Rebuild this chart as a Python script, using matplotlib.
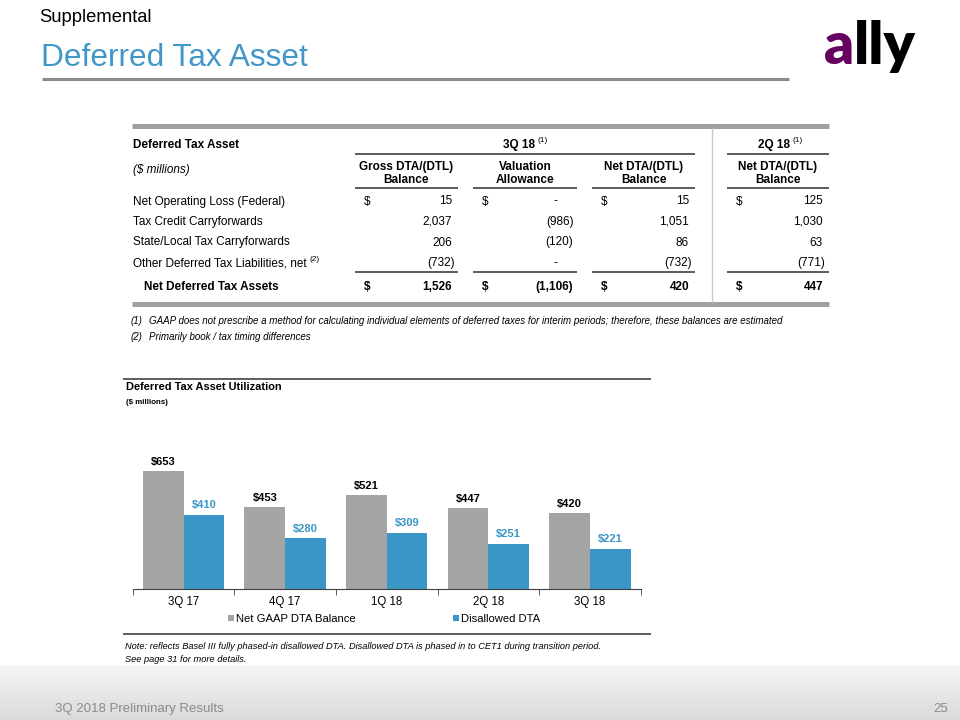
import matplotlib
matplotlib.use("Agg")
import matplotlib.pyplot as plt
import numpy as np
from matplotlib.lines import Line2D

plt.rcParams['font.family'] = ['Liberation Sans', 'DejaVu Sans']

# ---------------- data ----------------
row_labels = ["Net Operating Loss (Federal)", "Tax Credit Carryforwards",
              "State/Local Tax Carryforwards", "Other Deferred Tax Liabilities, net"]
gross_dta = [15, 2037, 206, -732]
valuation_allow = [0, -986, -120, 0]
net_dta_3q18 = [15, 1051, 86, -732]
net_dta_2q18 = [125, 1030, 63, -771]

categories = ["3Q 17", "4Q 17", "1Q 18", "2Q 18", "3Q 18"]
net_gaap_dta = [653, 453, 521, 447, 420]
disallowed_dta = [410, 280, 309, 251, 221]

GRAY = "#a5a5a5"
BLUE = "#3a96c6"
TITLE_BLUE = "#4197c8"

W, H = 960, 720
fig = plt.figure(figsize=(9.6, 7.2), dpi=100)

def X(px):
    return px / W

def Y(py):
    return 1 - py / H

def hline(x0, x1, y, color="#404040", lw=1.0):
    fig.add_artist(Line2D([X(x0), X(x1)], [Y(y), Y(y)], color=color, lw=lw,
                          transform=fig.transFigure, solid_capstyle='butt'))

def vline(x, y0, y1, color="#c0c0c0", lw=1.0):
    fig.add_artist(Line2D([X(x), X(x)], [Y(y0), Y(y1)], color=color, lw=lw,
                          transform=fig.transFigure))

def txt(x, y, s, **kw):
    kw.setdefault("va", "center")
    return fig.text(X(x), Y(y), s, **kw)

def sup(t, s, fs, **kw):
    fig.add_artist(matplotlib.text.Annotation(
        s, xy=(1, 0.55), xycoords=t, xytext=(2, 0), textcoords="offset points",
        fontsize=fs, va="bottom", ha="left", **kw))

# ---------------- footer gradient ----------------
gax = fig.add_axes([0, 0, 1, 55 / H])
grad = np.linspace(0, 1, 60).reshape(-1, 1)
gax.imshow(grad, aspect='auto', cmap=matplotlib.colors.LinearSegmentedColormap.from_list(
    "g", ["#dadada", "#f7f7f7"]), extent=[0, 1, 0, 1], origin='lower')
gax.axis('off')
txt(55, 709, "3Q 2018 Preliminary Results", fontsize=9.5, color="#8a8a8a")
txt(948, 709, "25", fontsize=9.5, color="#8a8a8a", ha="right")

# ---------------- header ----------------
txt(39, 17, "Supplemental", fontsize=13.2, color="#000000")
txt(41, 58, "Deferred Tax Asset", fontsize=22.8, color=TITLE_BLUE)
hline(42, 789, 79.3, color="#8c8c8c", lw=2.2)
# logo
fig.text(X(824), Y(64), "a", fontsize=42, fontweight="heavy", color="#650360",
         family=["Lato", "DejaVu Sans"], va="baseline", ha="left")
fig.text(X(854), Y(64), "lly", fontsize=42, fontweight="heavy", color="#000000",
         family=["Lato", "DejaVu Sans"], va="baseline", ha="left")

# ---------------- table ----------------
FS = 8.5
LX = 133
hline(131.5, 829, 126, color="#a0a0a0", lw=3.6)
hline(131.5, 829, 304, color="#a0a0a0", lw=3.6)
vline(711.5, 128, 302, color="#c8c8c8", lw=1.0)

txt(LX, 145, "Deferred Tax Asset", fontsize=FS, fontweight="bold")
t = txt(519, 145, "3Q 18", fontsize=FS, fontweight="bold", ha="center")
sup(t, "(1)", 6)
t = txt(774, 145, "2Q 18", fontsize=FS, fontweight="bold", ha="center")
sup(t, "(1)", 6)
hline(355, 695, 153.5, lw=1.2)
hline(727, 829, 153.5, lw=1.2)
txt(LX, 170, "($ millions)", fontsize=FS, fontstyle="italic")

col_left = [355, 473, 592, 727]
col_right = [458, 577, 695, 829]
col_heads = ["Gross DTA/(DTL)\nBalance", "Valuation\nAllowance",
             "Net DTA/(DTL)\nBalance", "Net DTA/(DTL)\nBalance"]
for l, r, hd in zip(col_left, col_right, col_heads):
    txt((l + r) / 2, 173.5, hd, fontsize=FS, fontweight="bold", ha="center",
        linespacing=1.2)
    hline(l, r, 188, lw=1.2)
    hline(l, r, 271.5, lw=1.2)

def fmt(v):
    if v == 0:
        return "-"
    if v < 0:
        return "({:,})".format(-v)
    return "{:,}".format(v)

def place(c, v, y, **kw):
    r = col_right[c] - 6
    if v < 0:
        xr = r + 2.5
    elif v == 0:
        xr = r - 14
    else:
        xr = r
    txt(xr, y, fmt(v), fontsize=FS, ha="right", **kw)

columns = [gross_dta, valuation_allow, net_dta_3q18, net_dta_2q18]
row_y = [201.5, 222, 242.5, 263.5]
for i, (lab, y) in enumerate(zip(row_labels, row_y)):
    t = txt(LX, y, lab, fontsize=FS)
    if i == 3:
        sup(t, "(2)", 6)
    for c, col in enumerate(columns):
        place(c, col[i], y)
        if i == 0:
            txt(col_left[c] + 9, y, "$", fontsize=FS)

ty = 287
txt(144, ty, "Net Deferred Tax Assets", fontsize=FS, fontweight="bold")
for c, col in enumerate(columns):
    place(c, sum(col), ty, fontweight="bold")
    txt(col_left[c] + 9, ty, "$", fontsize=FS, fontweight="bold")

# footnotes
FN = 7.0
txt(131, 321, "(1)", fontsize=FN, fontstyle="italic")
txt(149, 321, "GAAP does not prescribe a method for calculating individual elements of deferred taxes for interim periods; therefore, these balances are estimated",
    fontsize=FN, fontstyle="italic")
txt(131, 337, "(2)", fontsize=FN, fontstyle="italic")
txt(149, 337, "Primarily book / tax timing differences", fontsize=FN, fontstyle="italic")

# ---------------- chart ----------------
hline(123, 651, 379.3, color="#505050", lw=1.3)
txt(126, 387, "Deferred Tax Asset Utilization", fontsize=7.9, fontweight="bold")
txt(126, 402, "($ millions)", fontsize=5.7, fontweight="bold")

ax = fig.add_axes([X(132.7), Y(589), X(640.7) - X(132.7), (589 - 426) / H])
x = np.arange(len(categories))
bw = 0.4
b1 = ax.bar(x - bw / 2, net_gaap_dta, bw, color=GRAY, label="Net GAAP DTA Balance")
b2 = ax.bar(x + bw / 2, disallowed_dta, bw, color=BLUE, label="Disallowed DTA")
for rect, v in zip(b1, net_gaap_dta):
    ax.annotate("${}".format(v), (rect.get_x() + rect.get_width() / 2, v),
                xytext=(0, 6.5), textcoords="offset points", ha="center", va="center",
                fontsize=8, fontweight="bold", color="#000000")
for rect, v in zip(b2, disallowed_dta):
    ax.annotate("${}".format(v), (rect.get_x() + rect.get_width() / 2, v),
                xytext=(0, 7), textcoords="offset points", ha="center", va="center",
                fontsize=8, fontweight="bold", color=BLUE)
ax.set_xlim(-0.5, len(categories) - 0.5)
ax.set_ylim(0, 900)
ax.set_yticks([])
ax.set_xticks(x)
ax.set_xticklabels(categories, fontsize=8.3)
ax.set_xticks(np.arange(-0.5, len(categories)), minor=True)
ax.tick_params(axis='x', which='major', length=0, pad=5)
ax.tick_params(axis='x', which='minor', length=4, color="#404040", direction='out')
for s in ["top", "left", "right"]:
    ax.spines[s].set_visible(False)
ax.spines["bottom"].set_color("#404040")
ax.patch.set_alpha(0)

fig.legend(handles=[b1, b2], labels=["Net GAAP DTA Balance", "Disallowed DTA"],
           loc="center", bbox_to_anchor=(X(384), Y(619)), ncol=2, frameon=False,
           fontsize=8.1, handlelength=0.55, handleheight=0.55, handletextpad=0.2,
           columnspacing=8.6, borderpad=0)

hline(123, 651, 634, color="#505050", lw=1.3)
txt(125, 646.5, "Note: reflects Basel III fully phased-in disallowed DTA. Disallowed DTA is phased in to CET1 during transition period.",
    fontsize=6.7, fontstyle="italic")
txt(125, 659, "See page 31 for more details.", fontsize=6.7, fontstyle="italic")

fig.savefig("out.png", dpi=100)
